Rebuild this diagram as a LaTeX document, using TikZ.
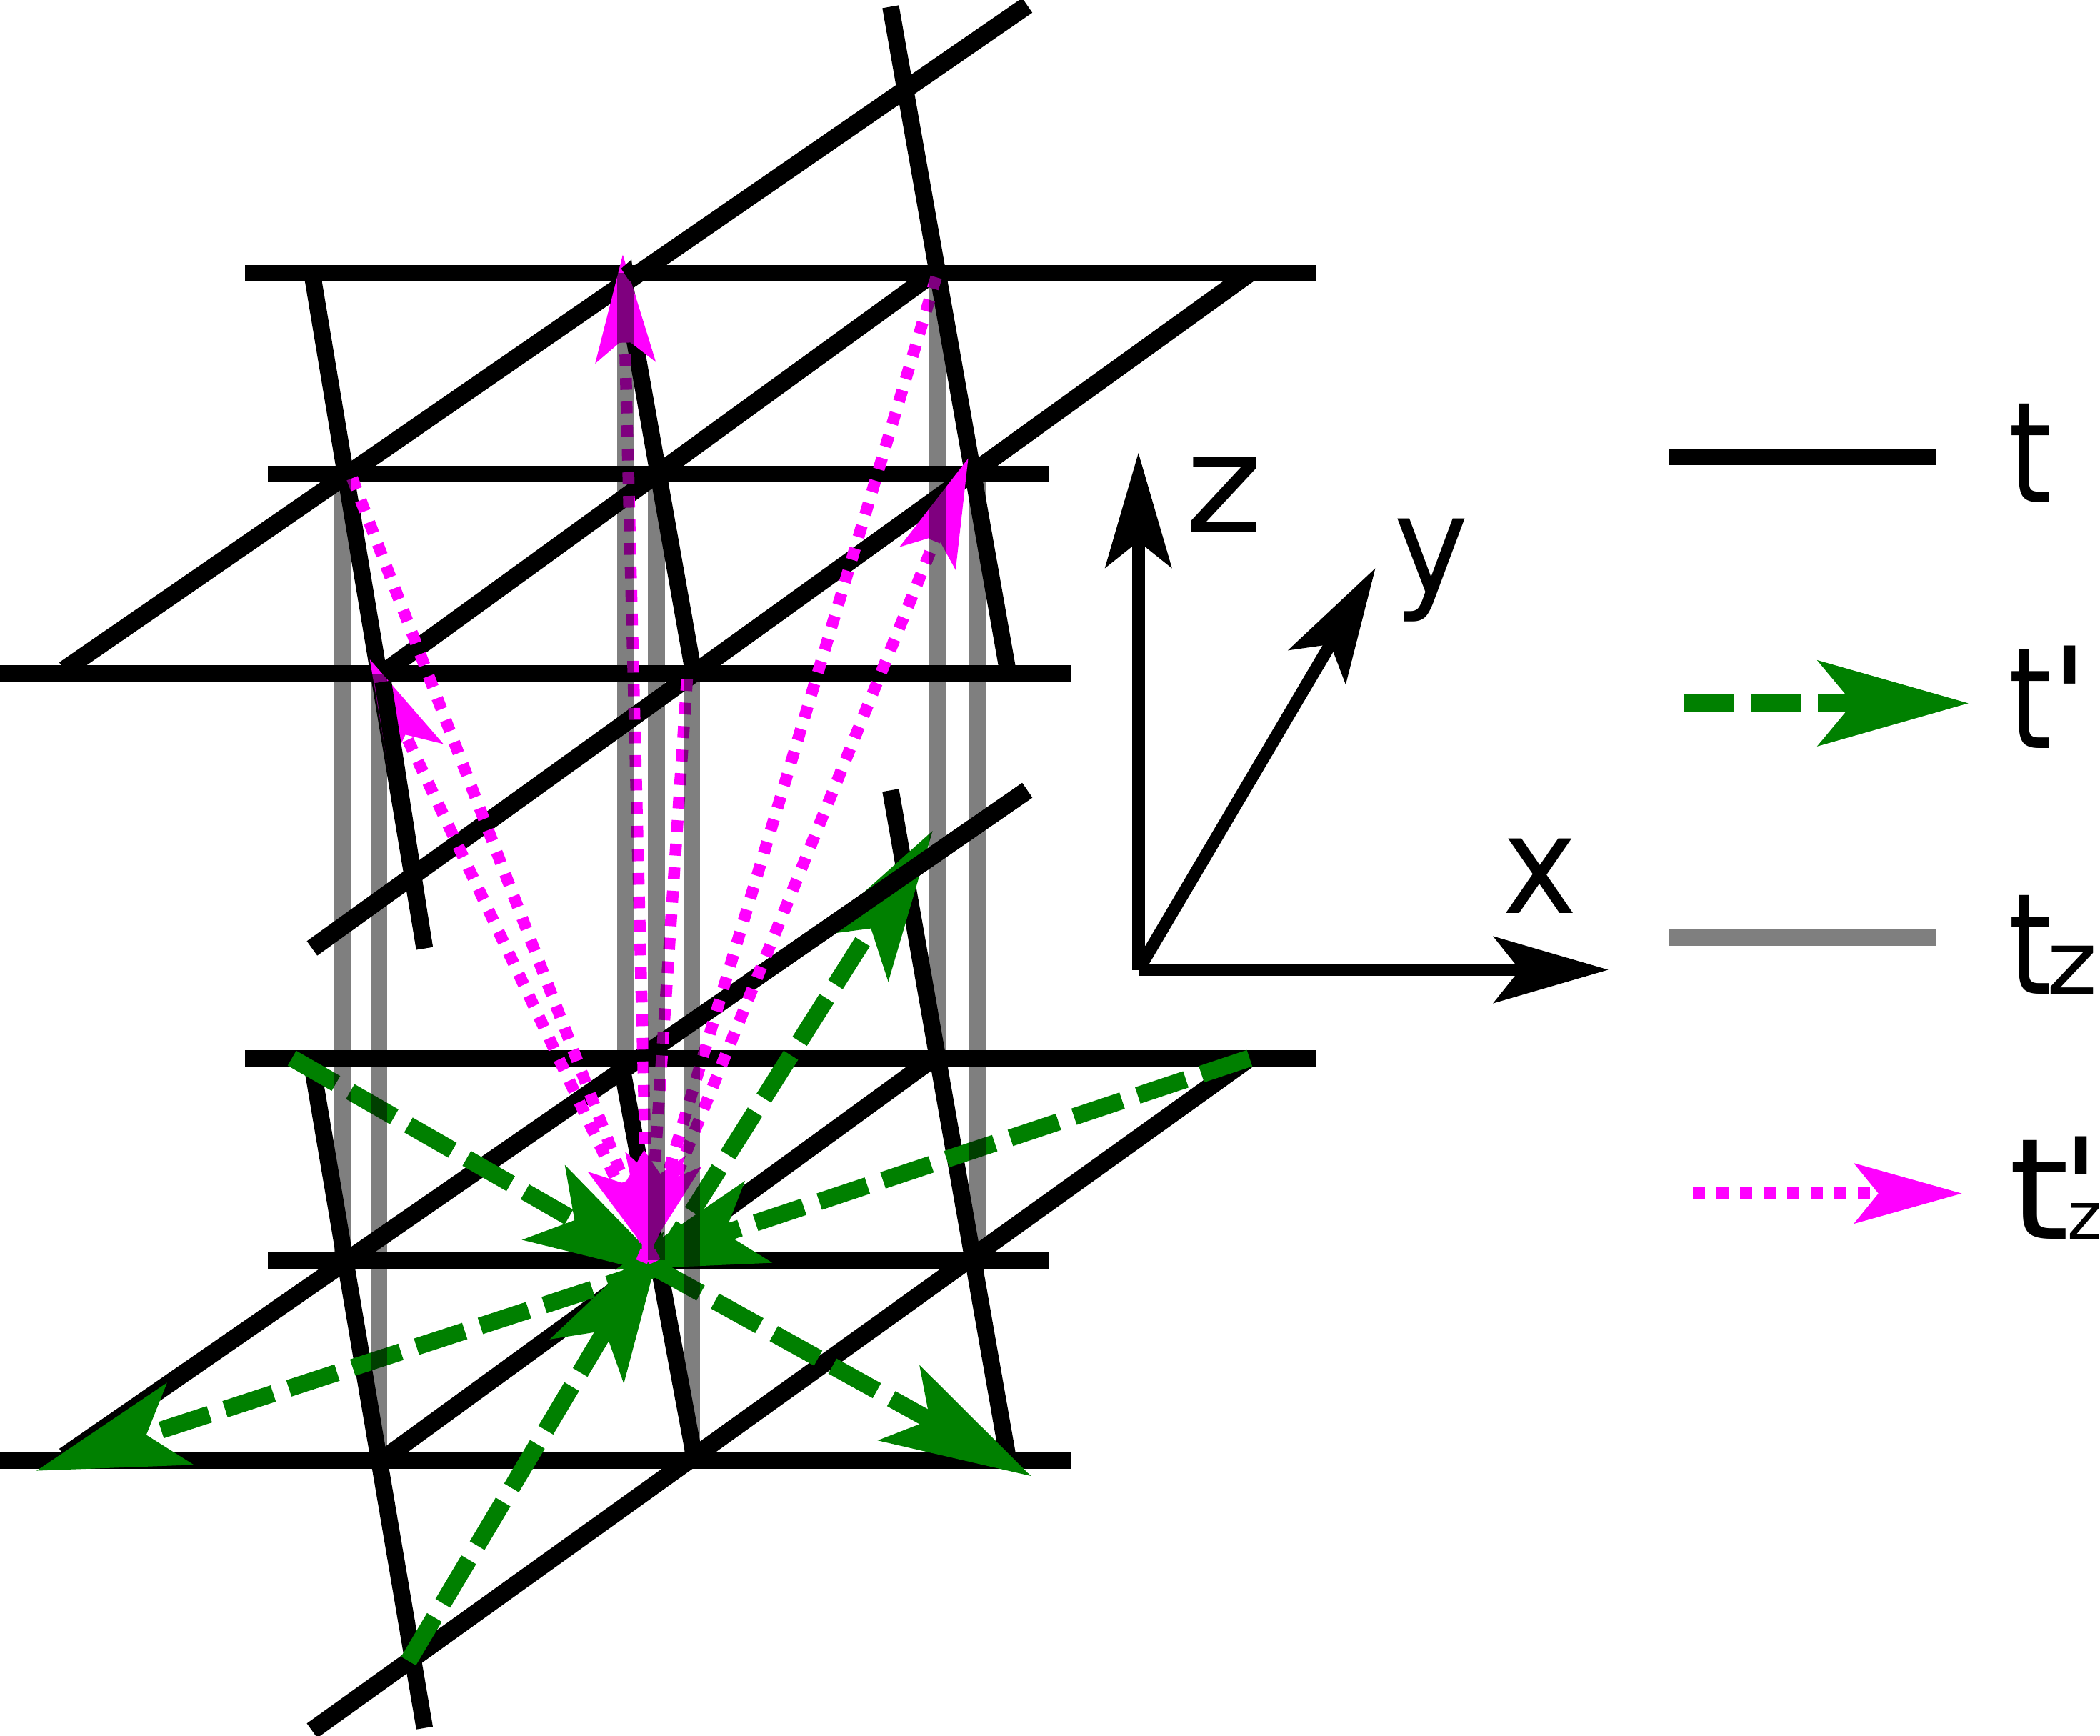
\documentclass[tikz,border=0pt]{standalone}
\usepackage{fontspec}
\usepackage{graphicx}
\newfontfamily\lf{DejaVu Sans}
\usetikzlibrary{arrows.meta}
\definecolor{gr}{HTML}{008000}
\definecolor{mg}{HTML}{FF00FF}
\tikzset{
  tline/.style={black,line width=2.35mm},
  dline/.style={black,line width=2.5mm},
  tzline/.style={black,opacity=.5,line width=2.35mm},
  gline/.style={gr,line width=2.4mm,dash pattern=on 7.1mm off 2.3mm,
    -{Stealth[length=21mm,width=11.8mm,inset=4.8mm]}},
  mline/.style={mg,line width=1.65mm,dash pattern=on 1.65mm off 1.65mm,
    -{Stealth[length=15mm,width=8.3mm,inset=3.3mm]}},
  axis/.style={black,line width=1.75mm,-{Stealth[length=16mm,width=9.2mm,inset=3.6mm]}},
  lab/.style={inner sep=0pt,outer sep=0pt,anchor=base west,font=\lf\fontsize{56}{60}\selectfont}
}
\newcommand{\tnarrow}{\scalebox{.78}[1]{t}}
\begin{document}
\begin{tikzpicture}[x=0.1875mm,y=-0.1875mm]
\useasboundingbox (0,0) rectangle (1568,1296);
% upper lattice
\draw[tline] (183,204)--(983,204) (200,354)--(783,354) (0,503)--(800,503);
\draw[dline] (48,500)--(767,4) (285,503)--(697,204) (233,708)--(933,204);
\draw[tline] (233,204)--(317,708) (465,204)--(518,503) (665,5)--(752,498);
% lower lattice
\draw[tline] (183,790)--(983,790) (200,941)--(783,941) (0,1090)--(800,1090);
\draw[dline] (48,1087)--(767,590) (285,1090)--(697,790) (233,1292)--(933,790);
\draw[tline] (233,795)--(317,1290) (463,790)--(518,1085) (665,590)--(752,1085);
% green
\coordinate (c) at (490,947);
\coordinate (ga) at (218,790);
\coordinate (gb) at (933,790);
\coordinate (gc) at (305,1240);
\coordinate (ta) at (504,954);
\coordinate (tb) at (459,948);
\coordinate (tc) at (496,919);
\coordinate (o1) at (27,1098);
\coordinate (o2) at (770,1102);
\coordinate (o3) at (696.5,620);
\draw[gline] (ga)--(ta);
\draw[gline] (gb)--(tb);
\draw[gline] (gc)--(tc);
\draw[gline] (c)--(o1);
\draw[gline] (c)--(o2);
\draw[gline] (c)--(o3);
% part of the diagonal lying over the green head
\draw[dline] (560,733)--(767,590);
% magenta
\coordinate (m1) at (263,357);
\coordinate (m2) at (276,492);
\coordinate (m3) at (465,190);
\coordinate (m4) at (699,207);
\coordinate (m5) at (723,342);
\coordinate (m6) at (513,507);
\coordinate (ct1) at (489,942);
\coordinate (ct2) at (479,942);
\coordinate (ct3) at (484,942);
\draw[mline] (m1)--(ct1);
\draw[mline] (ct1)--(m2);
\draw[mline] (ct3)--(m3);
\draw[mline] (m4)--(ct2);
\draw[mline] (ct2)--(m5);
\draw[mline] (m6)--(ct3);
\fill[black] (463.8,200.5)--(471.5,193.8)--(473.6,210)--(470,210)--cycle;
% part of the tilted line lying over the magenta head
\draw[tline] (286,509)--(317,708);
% gray
\draw[tzline] (256,354)--(256,941);
\draw[tzline] (283,503)--(283,1090);
\draw[tzline] (467,204)--(467,790);
\draw[tzline] (490,354)--(490,941);
\draw[tzline] (516.5,503)--(516.5,1090);
\draw[tzline] (700,204)--(700,790);
\draw[tzline] (730,354)--(730,941);
% axes
\coordinate (o) at (850,724);
\coordinate (ox) at (1201,724);
\coordinate (oy) at (1027,424);
\coordinate (oz) at (850,338);
\draw[axis] (o)--(ox);
\draw[axis] (o)--(oy);
\draw[axis] (o)--(oz);
\node[lab] (lz) at (885,397) {\scalebox{1.05}[.97]{z}};
\node[lab] (ly) at (1041,443) {\scalebox{.9}[.97]{y}};
\node[lab] (lx) at (1122,682) {\scalebox{.9}[.97]{x}};
% legend
\coordinate (l1a) at (1246,341); \coordinate (l1b) at (1446,341);
\coordinate (l2a) at (1257,525); \coordinate (l2b) at (1470,525);
\coordinate (l3a) at (1246,700); \coordinate (l3b) at (1446,700);
\coordinate (l4a) at (1264,891); \coordinate (l4b) at (1465,891);
\draw[tline] (l1a)--(l1b);
\draw[gline] (l2a)--(l2b);
\draw[tzline] (l3a)--(l3b);
\draw[mline] (l4a)--(l4b);
\node[lab] (t1) at (1500,375) {\tnarrow};
\node[lab] (t2) at (1500,558.5) {\tnarrow\kern-.5pt'};
\node[lab] (t3) at (1500,742) {\tnarrow\kern-2pt{\fontsize{35}{40}\selectfont\scalebox{1.1}[1]{z}}};
\node[lab] (t4) at (1500,925) {\scalebox{1.1}[1]{t}\kern-3pt'\kern-13.1pt{\fontsize{26}{30}\selectfont z}};
\end{tikzpicture}
\end{document}
